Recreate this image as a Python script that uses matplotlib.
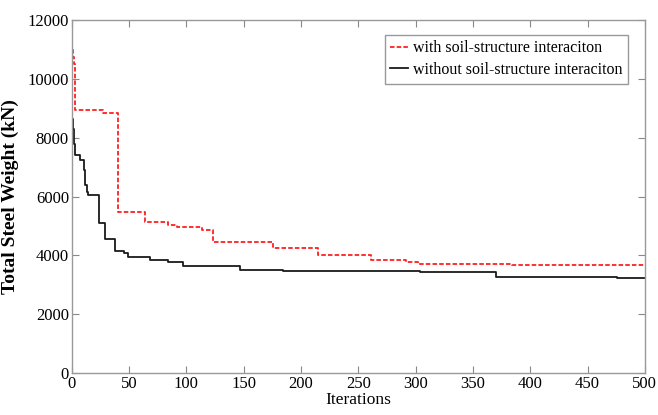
import matplotlib
matplotlib.use("Agg")
import matplotlib.pyplot as plt

plt.rcParams['font.family'] = ['Liberation Serif', 'DejaVu Serif']

red_iters = [0, 1, 2, 3, 27, 40, 64, 84, 92, 114, 123, 176, 215, 261, 292, 302, 384, 500]
red_vals = [10980, 10750, 10500, 8940, 8830, 5460, 5150, 5040, 4960, 4870, 4470, 4250, 4010, 3850, 3790, 3700, 3660, 3660]

blk_iters = [0, 1, 2, 3, 7, 11, 12, 13, 14, 24, 26, 29, 38, 46, 49, 68, 84, 97, 147, 184, 244, 304, 370, 476, 500]
blk_vals = [8650, 8300, 7800, 7400, 7240, 6900, 6400, 6150, 6050, 5110, 5110, 4560, 4160, 4070, 3960, 3850, 3770, 3650, 3510, 3480, 3460, 3420, 3270, 3220, 3220]

xticks = list(range(0, 501, 50))
yticks = list(range(0, 12001, 2000))

fig = plt.figure(figsize=(6.58, 4.15), dpi=100)
ax = fig.add_axes([0.109, 0.101, 0.871, 0.851])

ax.step(red_iters, red_vals, where='post', color='#ff2020', linestyle=(0, (2.5, 1.2)),
        linewidth=1.3, label='with soil-structure interaciton')
ax.step(blk_iters, blk_vals, where='post', color='#1a1a1a', linewidth=1.3,
        label='without soil-structure interaciton')

ax.set_xlim(0, 500)
ax.set_ylim(0, 12000)
ax.set_xticks(xticks)
ax.set_yticks(yticks)
ax.tick_params(direction='in', top=True, right=True, labelsize=12, color='#888888',
               length=5, pad=2)
for s in ax.spines.values():
    s.set_color('#999999')
    s.set_linewidth(1.0)

ax.set_xlabel('Iterations', fontsize=12.5, labelpad=0)
ax.set_ylabel('Total Steel Weight (kN)', fontsize=14, fontweight='bold', labelpad=6)

leg = ax.legend(loc='upper right', bbox_to_anchor=(0.97, 0.958), fontsize=11.5,
                frameon=True, fancybox=False, framealpha=1, edgecolor='#999999',
                handlelength=1.1, handletextpad=0.3, borderpad=0.35, labelspacing=0.35,
                borderaxespad=0)
leg.get_frame().set_linewidth(1.0)

fig.savefig('out.png', dpi=100)
